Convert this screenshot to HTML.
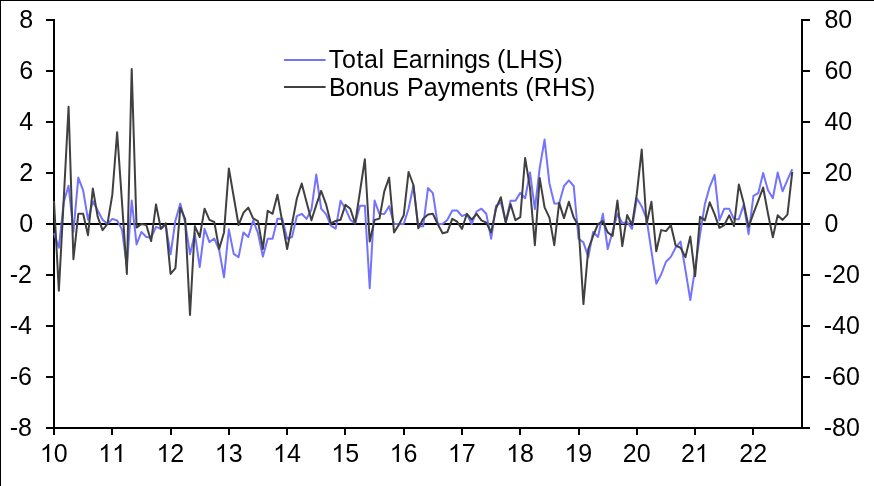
<!DOCTYPE html>
<html><head><meta charset="utf-8"><title>Chart</title>
<style>
html,body{margin:0;padding:0;background:#fff;}
body{width:874px;height:486px;overflow:hidden;position:relative;}
svg{position:absolute;left:0;top:0;display:block;}
svg.txt{will-change:transform;}
text{font-family:"Liberation Sans",sans-serif;font-size:25px;fill:#000;}
</style></head><body>
<svg width="874" height="486" viewBox="0 0 874 486">
<rect x="0" y="0" width="874" height="486" fill="#fff"/>
<rect x="0" y="0" width="874" height="1" fill="#000"/>
<rect x="0" y="0" width="1" height="486" fill="#000"/>
<g stroke="#000" stroke-width="2" fill="none" shape-rendering="crispEdges">
<line x1="54" y1="19" x2="54" y2="429"/>
<line x1="802" y1="19" x2="802" y2="429"/>
<line x1="46" y1="428" x2="810" y2="428"/>
<line x1="46" y1="20" x2="54" y2="20"/><line x1="46" y1="71" x2="54" y2="71"/><line x1="46" y1="122" x2="54" y2="122"/><line x1="46" y1="173" x2="54" y2="173"/><line x1="46" y1="224" x2="54" y2="224"/><line x1="46" y1="275" x2="54" y2="275"/><line x1="46" y1="326" x2="54" y2="326"/><line x1="46" y1="377" x2="54" y2="377"/><line x1="46" y1="428" x2="54" y2="428"/>
<line x1="802" y1="20" x2="810" y2="20"/><line x1="802" y1="71" x2="810" y2="71"/><line x1="802" y1="122" x2="810" y2="122"/><line x1="802" y1="173" x2="810" y2="173"/><line x1="802" y1="224" x2="810" y2="224"/><line x1="802" y1="275" x2="810" y2="275"/><line x1="802" y1="326" x2="810" y2="326"/><line x1="802" y1="377" x2="810" y2="377"/><line x1="802" y1="428" x2="810" y2="428"/>
<line x1="54.00" y1="428" x2="54.00" y2="434.5"/><line x1="112.29" y1="428" x2="112.29" y2="434.5"/><line x1="170.57" y1="428" x2="170.57" y2="434.5"/><line x1="228.86" y1="428" x2="228.86" y2="434.5"/><line x1="287.14" y1="428" x2="287.14" y2="434.5"/><line x1="345.43" y1="428" x2="345.43" y2="434.5"/><line x1="403.71" y1="428" x2="403.71" y2="434.5"/><line x1="462.00" y1="428" x2="462.00" y2="434.5"/><line x1="520.29" y1="428" x2="520.29" y2="434.5"/><line x1="578.57" y1="428" x2="578.57" y2="434.5"/><line x1="636.86" y1="428" x2="636.86" y2="434.5"/><line x1="695.14" y1="428" x2="695.14" y2="434.5"/><line x1="753.43" y1="428" x2="753.43" y2="434.5"/>
</g>
<line x1="54" y1="224" x2="802" y2="224" stroke="#000" stroke-width="2" shape-rendering="crispEdges"/>
<polyline fill="none" stroke="#7373ff" stroke-width="2" stroke-linejoin="round" stroke-linecap="butt" points="54.00,233.18 58.86,247.72 63.71,202.32 68.57,185.75 73.43,231.65 78.29,177.59 83.14,190.34 88.00,219.66 92.86,201.31 97.71,210.49 102.57,219.66 107.43,224.00 112.29,218.90 117.14,220.43 122.00,229.61 126.86,266.07 131.71,200.54 136.57,244.40 141.43,231.91 146.29,237.00 151.14,237.77 156.00,226.81 160.86,228.84 165.71,225.02 170.57,254.34 175.43,220.43 180.29,203.60 185.14,222.47 190.00,254.34 194.86,233.44 199.71,267.10 204.57,228.84 209.43,242.10 214.29,238.53 219.14,249.75 224.00,277.30 228.86,229.35 233.71,253.84 238.57,257.15 243.43,232.41 248.29,237.00 253.14,220.43 258.00,233.18 262.86,256.64 267.71,238.79 272.57,238.79 277.43,218.65 282.29,218.65 287.14,238.79 292.00,237.00 296.86,216.09 301.71,213.80 306.57,218.90 311.43,209.47 316.29,174.53 321.14,208.70 326.00,214.06 330.86,225.53 335.71,228.59 340.57,200.79 345.43,208.70 350.29,219.66 355.14,223.49 360.00,205.64 364.86,205.64 369.71,288.26 374.57,200.54 379.43,213.80 384.29,214.06 389.14,206.15 394.00,224.00 398.86,224.00 403.71,224.00 408.57,208.70 413.43,185.50 418.29,226.55 423.14,226.29 428.00,188.05 432.86,193.15 437.71,224.00 442.57,224.00 447.43,219.66 452.29,210.49 457.14,210.49 462.00,216.09 466.86,214.06 471.71,224.00 476.57,211.50 481.43,208.70 486.29,213.80 491.14,238.79 496.00,205.90 500.86,202.32 505.71,221.45 510.57,200.79 515.43,200.79 520.29,192.89 525.14,198.25 530.00,172.49 534.86,209.21 539.71,167.90 544.57,139.59 549.43,183.45 554.29,203.60 559.14,203.60 564.00,186.00 568.86,180.40 573.71,186.00 578.57,238.79 583.43,242.36 588.29,257.15 593.14,231.91 598.00,237.00 602.86,213.80 607.71,248.99 612.57,231.65 617.43,213.80 622.29,223.24 627.14,221.96 632.00,228.84 636.86,198.25 641.71,206.41 646.57,218.90 651.43,251.03 656.29,283.67 661.14,274.49 666.00,261.74 670.86,256.89 675.71,247.46 680.57,241.59 685.43,269.90 690.29,299.99 695.14,268.37 700.00,234.97 704.86,204.11 709.71,186.77 714.57,174.78 719.43,220.18 724.29,208.70 729.14,208.70 734.00,219.16 738.86,219.16 743.71,204.88 748.57,234.20 753.43,195.95 758.29,193.15 763.14,173.00 768.00,190.34 772.86,198.25 777.71,172.49 782.57,191.36 787.43,179.88 792.29,169.18"/>
<polyline fill="none" stroke="#404040" stroke-width="2" stroke-linejoin="round" stroke-linecap="butt" points="54.00,201.05 58.86,290.81 63.71,199.78 68.57,106.70 73.43,259.19 78.29,213.80 83.14,213.80 88.00,235.22 92.86,188.56 97.71,216.86 102.57,230.12 107.43,224.00 112.29,194.93 117.14,132.20 122.00,202.32 126.86,273.98 131.71,68.96 136.57,227.57 141.43,224.00 146.29,225.02 151.14,241.09 156.00,204.37 160.86,228.84 165.71,223.24 170.57,273.98 175.43,268.12 180.29,207.68 185.14,218.90 190.00,315.03 194.86,226.04 199.71,237.00 204.57,208.70 209.43,219.92 214.29,221.96 219.14,248.99 224.00,232.41 228.86,168.41 233.71,196.72 238.57,225.02 243.43,212.78 248.29,207.68 253.14,218.39 258.00,221.19 262.86,248.99 267.71,210.74 272.57,213.80 277.43,194.68 282.29,221.96 287.14,248.99 292.00,224.00 296.86,198.50 301.71,183.45 306.57,202.32 311.43,220.18 316.29,204.88 321.14,190.85 326.00,204.11 330.86,223.49 335.71,220.94 340.57,219.66 345.43,204.88 350.29,208.70 355.14,223.49 360.00,191.36 364.86,159.23 369.71,241.59 374.57,219.92 379.43,218.65 384.29,191.36 389.14,177.59 394.00,232.41 398.86,224.76 403.71,215.33 408.57,171.98 413.43,184.99 418.29,228.34 423.14,218.65 428.00,214.56 432.86,213.80 437.71,224.00 442.57,233.18 447.43,231.91 452.29,218.90 457.14,221.71 462.00,228.84 466.86,213.80 471.71,219.66 476.57,213.80 481.43,220.43 486.29,222.72 491.14,232.41 496.00,208.70 500.86,197.22 505.71,222.72 510.57,204.11 515.43,220.18 520.29,217.12 525.14,157.95 530.00,188.05 534.86,245.16 539.71,178.10 544.57,207.43 549.43,217.62 554.29,245.16 559.14,202.84 564.00,218.13 568.86,201.81 573.71,217.62 578.57,226.04 583.43,304.07 588.29,248.99 593.14,235.99 598.00,224.00 602.86,221.19 607.71,232.41 612.57,235.99 617.43,200.54 622.29,246.19 627.14,215.07 632.00,225.02 636.86,193.66 641.71,149.54 646.57,224.00 651.43,201.81 656.29,251.28 661.14,230.12 666.00,231.14 670.86,225.02 675.71,245.68 680.57,247.72 685.43,257.15 690.29,236.50 695.14,276.27 700.00,216.86 704.86,220.43 709.71,202.32 714.57,214.06 719.43,227.82 724.29,225.02 729.14,215.33 734.00,226.04 738.86,184.47 743.71,203.09 748.57,226.81 753.43,213.29 758.29,200.54 763.14,187.53 768.00,213.80 772.86,237.26 777.71,215.33 782.57,219.92 787.43,214.56 792.29,171.98"/>
<line x1="284" y1="60" x2="325.6" y2="60" stroke="#7373ff" stroke-width="2"/>
<line x1="284" y1="86.9" x2="325.6" y2="86.9" stroke="#404040" stroke-width="2"/>
</svg>
<svg class="txt" width="874" height="486" viewBox="0 0 874 486">
<g><text x="33.1" y="27.6" text-anchor="end">8</text><text x="33.1" y="78.6" text-anchor="end">6</text><text x="33.1" y="129.6" text-anchor="end">4</text><text x="33.1" y="180.6" text-anchor="end">2</text><text x="33.1" y="231.6" text-anchor="end">0</text><text x="32" y="282.6" text-anchor="end">-2</text><text x="32" y="333.6" text-anchor="end">-4</text><text x="32" y="384.6" text-anchor="end">-6</text><text x="32" y="435.6" text-anchor="end">-8</text></g>
<g><text x="824.4" y="27.6">80</text><text x="824.4" y="78.6">60</text><text x="824.4" y="129.6">40</text><text x="824.4" y="180.6">20</text><text x="824.4" y="231.6">0</text><text x="823.8" y="282.6">-20</text><text x="823.8" y="333.6">-40</text><text x="823.8" y="384.6">-60</text><text x="823.8" y="435.6">-80</text></g>
<g><path d="M763 0H583V1147Q518 1085 412 1023T223 930V1104Q374 1175 487 1276T647 1472H763Z" transform="translate(39.90 462.00) scale(0.012207 -0.012207)"/><text x="53.80" y="462.00">0</text><path d="M763 0H583V1147Q518 1085 412 1023T223 930V1104Q374 1175 487 1276T647 1472H763Z" transform="translate(98.18 462.00) scale(0.012207 -0.012207)"/><path d="M763 0H583V1147Q518 1085 412 1023T223 930V1104Q374 1175 487 1276T647 1472H763Z" transform="translate(112.09 462.00) scale(0.012207 -0.012207)"/><path d="M763 0H583V1147Q518 1085 412 1023T223 930V1104Q374 1175 487 1276T647 1472H763Z" transform="translate(156.47 462.00) scale(0.012207 -0.012207)"/><text x="170.37" y="462.00">2</text><path d="M763 0H583V1147Q518 1085 412 1023T223 930V1104Q374 1175 487 1276T647 1472H763Z" transform="translate(214.75 462.00) scale(0.012207 -0.012207)"/><text x="228.66" y="462.00">3</text><path d="M763 0H583V1147Q518 1085 412 1023T223 930V1104Q374 1175 487 1276T647 1472H763Z" transform="translate(273.04 462.00) scale(0.012207 -0.012207)"/><text x="286.94" y="462.00">4</text><path d="M763 0H583V1147Q518 1085 412 1023T223 930V1104Q374 1175 487 1276T647 1472H763Z" transform="translate(331.32 462.00) scale(0.012207 -0.012207)"/><text x="345.23" y="462.00">5</text><path d="M763 0H583V1147Q518 1085 412 1023T223 930V1104Q374 1175 487 1276T647 1472H763Z" transform="translate(389.61 462.00) scale(0.012207 -0.012207)"/><text x="403.51" y="462.00">6</text><path d="M763 0H583V1147Q518 1085 412 1023T223 930V1104Q374 1175 487 1276T647 1472H763Z" transform="translate(447.90 462.00) scale(0.012207 -0.012207)"/><text x="461.80" y="462.00">7</text><path d="M763 0H583V1147Q518 1085 412 1023T223 930V1104Q374 1175 487 1276T647 1472H763Z" transform="translate(506.18 462.00) scale(0.012207 -0.012207)"/><text x="520.09" y="462.00">8</text><path d="M763 0H583V1147Q518 1085 412 1023T223 930V1104Q374 1175 487 1276T647 1472H763Z" transform="translate(564.47 462.00) scale(0.012207 -0.012207)"/><text x="578.37" y="462.00">9</text><text x="622.75" y="462.00">2</text><text x="636.66" y="462.00">0</text><text x="681.04" y="462.00">2</text><path d="M763 0H583V1147Q518 1085 412 1023T223 930V1104Q374 1175 487 1276T647 1472H763Z" transform="translate(694.94 462.00) scale(0.012207 -0.012207)"/><text x="739.32" y="462.00">2</text><text x="753.23" y="462.00">2</text></g>
<text x="328.78" y="68" textLength="55.31" lengthAdjust="spacing">Total</text><text x="392.24" y="68" textLength="98.09" lengthAdjust="spacing">Earnings</text><text x="496.98" y="68" textLength="65.95" lengthAdjust="spacing">(LHS)</text><text x="329.06" y="95.6" textLength="69.83" lengthAdjust="spacing">Bonus</text><text x="407.06" y="95.6" textLength="111.31" lengthAdjust="spacing">Payments</text><text x="525.19" y="95.6" textLength="70.20" lengthAdjust="spacing">(RHS)</text>
</svg>
</body></html>
